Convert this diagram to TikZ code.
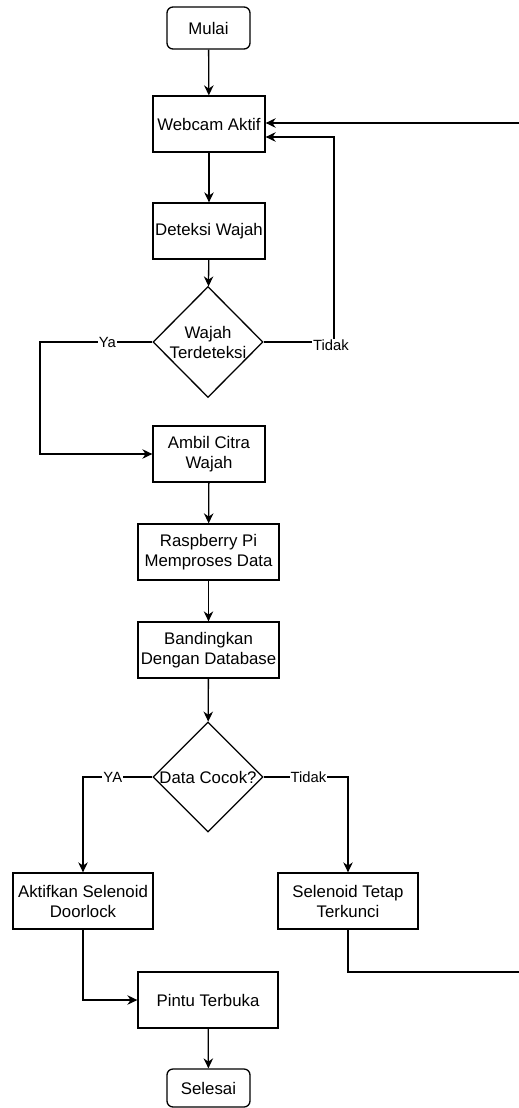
\documentclass[tikz,border=0pt]{standalone}
\usepackage{fontspec}
\setmainfont{Liberation Sans}
\usetikzlibrary{shapes.geometric,arrows.meta}
\begin{document}
\begin{tikzpicture}[x=1pt,y=-1pt,
  every node/.style={font=\fontsize{16.8}{20}\selectfont, align=center},
  proc/.style={draw, line width=1.3pt, rectangle, minimum height=56pt, inner sep=0pt},
  term/.style={draw, line width=1.3pt, rectangle, rounded corners=6pt, minimum width=83pt, inner sep=0pt},
  dec/.style={draw, line width=1.3pt, diamond, minimum width=110pt, minimum height=111pt, inner sep=0pt},
  dtext/.style={font=\fontsize{16.8}{20}\selectfont, align=center, inner sep=0pt},
  arr/.style={line width=1.3pt, -{Stealth[length=10pt,width=9.5pt]}},
  ln/.style={line width=1.3pt},
  lbl/.style={font=\fontsize{14.8}{16}\selectfont, fill=white, inner sep=1pt}
]
\useasboundingbox (0,0) rectangle (519,1108);

\node[term, minimum height=42pt] (mulai) at (208.5,28) {Mulai};
\node[proc, minimum width=112pt] (webcam) at (209,124) {Webcam Aktif};
\node[proc, minimum width=112pt] (deteksi) at (209,231) {Deteksi Wajah};
\node[dec, label={[dtext]center:Wajah\\Terdeteksi}] (d1) at (208,342) {};
\node[proc, minimum width=112pt] (ambil) at (209,454) {Ambil Citra\\Wajah};
\node[proc, minimum width=141pt] (rasp) at (208.5,552) {Raspberry Pi\\Memproses Data};
\node[proc, minimum width=141pt] (band) at (208.5,650) {Bandingkan\\Dengan Database};
\node[dec, minimum height=110pt, label={[dtext]center:Data Cocok?}] (d2) at (208,777) {};
\node[proc, minimum width=140pt] (aktif) at (83,901) {Aktifkan Selenoid\\Doorlock};
\node[proc, minimum width=140pt] (tetap) at (348,901) {Selenoid Tetap\\Terkunci};
\node[proc, minimum width=140pt] (pintu) at (208,1000) {Pintu Terbuka};
\node[term, minimum height=38pt] (selesai) at (208.5,1088) {Selesai};

\coordinate (cya) at (40,342);
\coordinate (ctd) at (334,342);
\coordinate (cya2) at (83,777);
\coordinate (ctd2) at (348,777);
\coordinate (edgeB) at (519,972);
\coordinate (edgeT) at (519,123);

\draw[arr] (mulai) -- (webcam);
\draw[arr] (webcam) -- (deteksi);
\draw[arr] (deteksi) -- (d1);
\draw[arr] (d1.west) -- node[lbl, pos=0.4]{Ya} (cya) |- (ambil.west);
\draw[arr] (d1.east) -- (ctd) |- ([yshift=-13pt]webcam.east);
\node[lbl] at (331,345) {Tidak};
\draw[arr] (ambil) -- (rasp);
\draw[arr] (rasp) -- (band);
\draw[arr] (band) -- (d2);
\draw[arr] (d2.west) -- node[lbl, pos=0.57]{YA} (cya2) -- (aktif.north);
\draw[arr] (d2.east) -- node[lbl, pos=0.53]{Tidak} (ctd2) -- (tetap.north);
\draw[arr] (aktif.south) |- (pintu.west);
\draw[arr] (pintu) -- (selesai);
\draw[ln] (tetap.south) |- (edgeB);
\draw[arr] (edgeT) -- (webcam.east |- edgeT);
\end{tikzpicture}
\end{document}
